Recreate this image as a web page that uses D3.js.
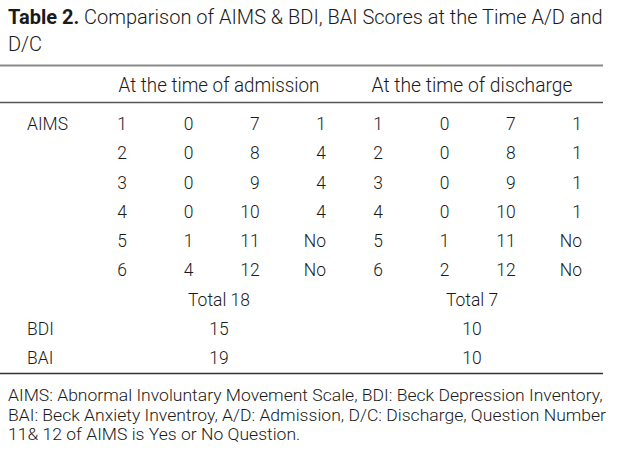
<!DOCTYPE html>
<html>
<head>
<meta charset="utf-8">
<script src="https://cdn.jsdelivr.net/npm/d3@7"></script>
<style>
  body { margin: 0; background: #fff; }
  text { font-family: Roboto, "Liberation Sans", sans-serif; font-weight: 300; fill: #1a1a1a; }
</style>
</head>
<body>
<svg id="chart" width="622" height="461"></svg>
<script>
const titleBold = 'Table 2.'
const titleRest = ' Comparison of AIMS & BDI, BAI Scores at the Time A/D and'
const titleLine2 = 'D/C'
const groups = ['At the time of admission', 'At the time of discharge']

// AIMS items: [item, score, item, score] per period
const admission = [
  [1, 0, 7, 1], [2, 0, 8, 4], [3, 0, 9, 4],
  [4, 0, 10, 4], [5, 1, 11, 'No'], [6, 4, 12, 'No']
]
const discharge = [
  [1, 0, 7, 1], [2, 0, 8, 1], [3, 0, 9, 1],
  [4, 0, 10, 1], [5, 1, 11, 'No'], [6, 2, 12, 'No']
]
const totals = ['Total 18', 'Total 7']
const bdi = [15, 10]
const bai = [19, 10]
const rowLabels = ['AIMS', '', '', '', '', '', 'Total', 'BDI', 'BAI']
const footnote = [
  'AIMS: Abnormal Involuntary Movement Scale, BDI: Beck Depression Inventory,',
  'BAI: Beck Anxiety Inventroy, A/D: Admission, D/C: Discharge, Question Number',
  '11& 12 of AIMS is Yes or No Question.'
]

const svg = d3.select('#chart')

const groupRight = d3.scalePoint().domain([0, 1]).range([127, 383])
const colOffset = d3.scalePoint().domain(d3.range(4)).range([0, 199])
const groupMid = d3.scalePoint().domain([0, 1]).range([219, 472])
const y = d3.scalePoint().domain(d3.range(rowLabels.length)).range([130, 364])

// squeeze a text to a given width
function fit(sel, width, anchorX, baseY) {
  const w = sel.node().getComputedTextLength()
  const s = width / w
  sel.attr('x', 0).attr('y', 0)
    .attr('transform', `translate(${anchorX},${baseY}) scale(${s},1)`)
  return s
}

// title
const title = svg.append('text').style('font-size', '21px')
title.append('tspan').text(titleBold).style('font-weight', 'bold')
title.append('tspan').text(titleRest)
const ts = fit(title, 595, 8, 24)
svg.append('text').style('font-size', '21px').text(titleLine2)
  .attr('transform', `translate(8,51) scale(${ts},1)`)

// rules
const rule = (yy, color, w) => svg.append('line')
  .attr('x1', 0).attr('x2', 603).attr('y1', yy).attr('y2', yy)
  .attr('stroke', color).attr('stroke-width', w)
rule(65.5, '#8a8a8a', 2)
rule(102.5, '#555', 1.5)
rule(373.5, '#333', 1.5)

// group headers
svg.selectAll('.grp')
  .data(groups)
  .enter().append('text')
    .attr('class', 'grp')
    .attr('text-anchor', 'middle')
    .style('font-size', '19.5px')
    .text(d => d)
    .each(function (d, i) { fit(d3.select(this), 201, groupMid(i), 92) })

const sx = 0.92
// row labels
svg.selectAll('.rl')
  .data(rowLabels.map((d, i) => ({ d, i })).filter(o => o.d && o.d !== 'Total'))
  .enter().append('text')
    .attr('class', 'rl')
    .attr('transform', o => `translate(27,${y(o.i)}) scale(${sx},1)`)
    .style('font-size', '19px')
    .text(o => o.d)

// AIMS cells, right aligned
const cells = []
admission.forEach((row, r) => {
  row.forEach((v, c) => cells.push({ v, r, g: 0, c }))
  discharge[r].forEach((v, c) => cells.push({ v, r, g: 1, c }))
})
svg.selectAll('.cell')
  .data(cells)
  .enter().append('text')
    .attr('class', 'cell')
    .attr('transform', d => `translate(${groupRight(d.g) + colOffset(d.c)},${y(d.r)}) scale(${sx},1)`)
    .attr('text-anchor', 'end')
    .style('font-size', '19px')
    .text(d => d.v)

// totals, BDI, BAI
const summary = [
  ...totals.map((v, g) => ({ v, g, r: 6 })),
  ...bdi.map((v, g) => ({ v, g, r: 7 })),
  ...bai.map((v, g) => ({ v, g, r: 8 }))
]
svg.selectAll('.sum')
  .data(summary)
  .enter().append('text')
    .attr('class', 'sum')
    .attr('transform', d => `translate(${groupMid(d.g)},${y(d.r)}) scale(${sx},1)`)
    .attr('text-anchor', 'middle')
    .style('font-size', '19px')
    .text(d => d.v)

// footnote
const fn = svg.selectAll('.fn')
  .data(footnote)
  .enter().append('text')
    .attr('class', 'fn')
    .style('font-size', '17px')
    .text(d => d)
const fs = fit(d3.select(fn.nodes()[0]), 595, 8, 401)
fn.attr('x', 0).attr('y', 0)
  .attr('transform', (d, i) => `translate(8,${401 + i * 19.5}) scale(${fs},1)`)
</script>
</body>
</html>
